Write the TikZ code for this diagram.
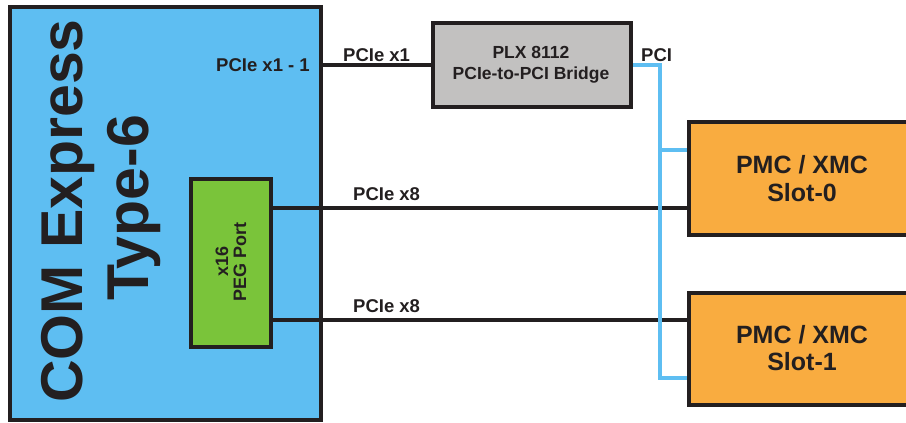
\documentclass[tikz,border=0pt]{standalone}
\usepackage{fontspec}
\setmainfont{Liberation Sans}
\definecolor{comblue}{RGB}{94,190,242}
\definecolor{pegreen}{RGB}{122,196,58}
\definecolor{bridgegray}{RGB}{194,193,192}
\definecolor{slotorange}{RGB}{249,172,64}
\definecolor{ink}{RGB}{35,31,32}
\begin{document}
\begin{tikzpicture}[x=1pt,y=-1pt,
  box/.style={draw=ink, line width=3.6pt, rectangle, inner sep=0pt},
  bus/.style={draw=ink, line width=3.6pt},
  pcibus/.style={draw=comblue, line width=3.6pt, line join=miter},
  txt/.style={text=ink, inner sep=0pt, anchor=base},
  lbl/.style={text=ink, inner sep=0pt, font=\bfseries\fontsize{18.5}{20}\selectfont},
  big/.style={txt, rotate=90, font=\bfseries\fontsize{59}{66}\selectfont},
  peg/.style={txt, rotate=90, font=\bfseries\fontsize{18}{20}\selectfont},
  plxfont/.style={txt, font=\bfseries\fontsize{17.5}{20}\selectfont},
  slotfont/.style={txt, font=\bfseries\fontsize{25}{28}\selectfont}]
\useasboundingbox (0,0) rectangle (906,423);

% COM Express module
\node[box, fill=comblue, minimum width=311pt, minimum height=413pt] (com) at (165.5,213.5) {};
\node[big] (comt1) at (82,211) {COM Express};
\node[big] (comt2) at (148,208) {Type-6};

% PEG port
\node[box, fill=pegreen, minimum width=80pt, minimum height=168pt] (peg) at (231,263) {};
\node[peg] (pegt1) at (228,261) {x16};
\node[peg] (pegt2) at (246,262) {PEG Port};

% coordinates for buses
\coordinate (y8a) at (0,208);
\coordinate (y8b) at (0,320);
\coordinate (pcitop) at (660,65);
\coordinate (br0) at (660,150);
\coordinate (pcibot) at (660,378);

% Bridge
\node[box, fill=bridgegray, minimum width=198pt, minimum height=84pt] (plx) at (532,65) {};
\node[plxfont] (plxt1) at (531,58) {PLX 8112};
\node[plxfont] (plxt2) at (531,79) {PCIe-to-PCI Bridge};

% Slots
\node[box, fill=slotorange, minimum width=226pt, minimum height=113pt] (slot0) at (802,178.5) {};
\node[slotfont] (s0t1) at (802,173) {PMC / XMC};
\node[slotfont] (s0t2) at (802,201) {Slot-0};
\node[box, fill=slotorange, minimum width=226pt, minimum height=112pt] (slot1) at (802,349) {};
\node[slotfont] (s1t1) at (802,343) {PMC / XMC};
\node[slotfont] (s1t2) at (802,370) {Slot-1};

% Buses
\draw[bus] (com.east |- plx.west) -- (plx.west);
\draw[bus] (peg.east |- y8a) -- (slot0.west |- y8a);
\draw[bus] (peg.east |- y8b) -- (slot1.west |- y8b);
\draw[pcibus] (plx.east) -- (pcitop) -- (pcibot) -- (slot1.west |- pcibot);
\draw[pcibus] (br0) -- (slot0.west |- br0);

% Labels
\node[lbl, anchor=base east] (lx11) at (310,71) {PCIe x1 - 1};
\node[lbl, anchor=base west] (lx1) at (343,61) {PCIe x1};
\node[lbl, anchor=base west] (lx8a) at (353,200) {PCIe x8};
\node[lbl, anchor=base west] (lx8b) at (353,312) {PCIe x8};
\node[lbl, anchor=base west] (lpci) at (641,61) {PCI};
\end{tikzpicture}
\end{document}
